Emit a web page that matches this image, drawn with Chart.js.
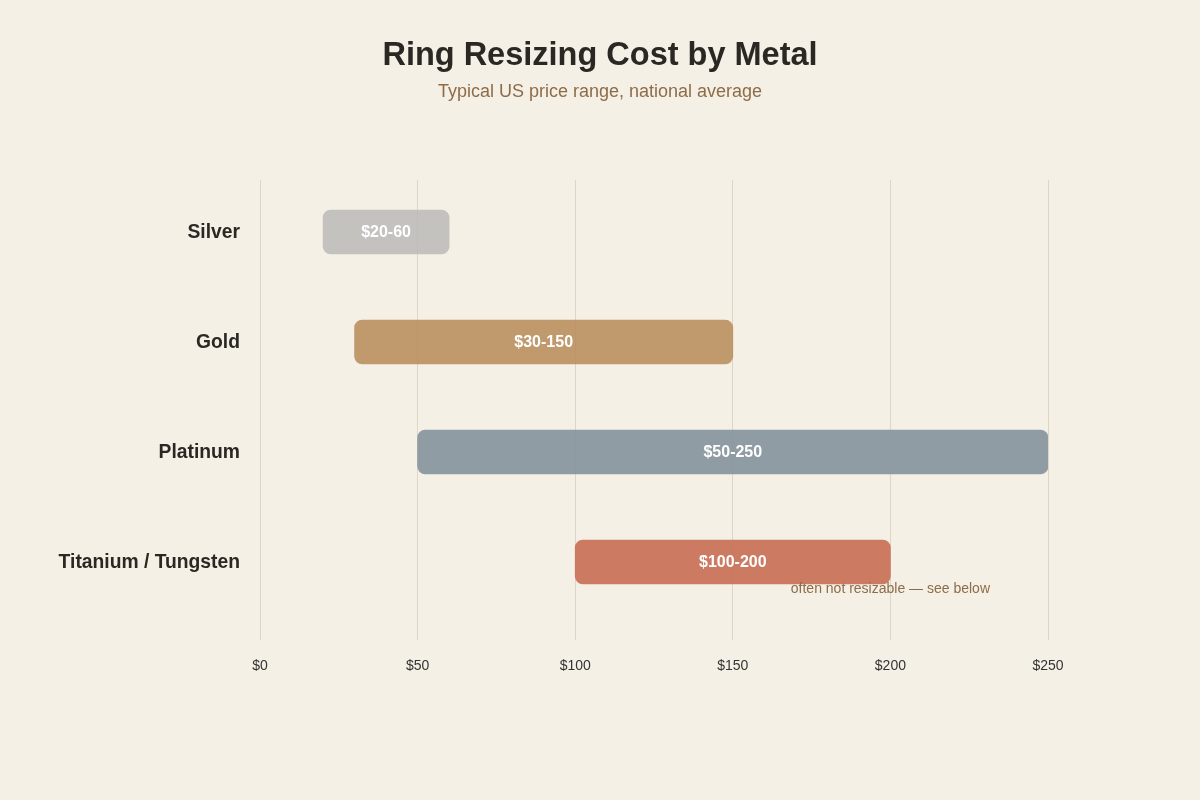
<!DOCTYPE html>
<html>
<head>
<meta charset="utf-8">
<script src="https://cdn.jsdelivr.net/npm/chart.js@4/dist/chart.umd.min.js"></script>
<style>
  html, body { margin: 0; padding: 0; background: #F5F0E6; }
  #wrap { width: 1200px; height: 800px; position: relative; }
</style>
</head>
<body>
<div id="wrap"><canvas id="c" width="1200" height="800"></canvas></div>
<script>
// ranges, in USD
const metals = ["Silver", "Gold", "Platinum", "Titanium / Tungsten"];
const lowCost = [20, 30, 50, 100];
const highCost = [60, 150, 250, 200];
const notes = ["", "", "", "often not resizable \u2014 see below"];
const xTicks = [0, 50, 100, 150, 200, 250];
const barColors = [
  "rgba(188, 187, 186, 0.88)",
  "rgba(184, 140, 92, 0.88)",
  "rgba(133, 146, 156, 0.9)",
  "rgba(200, 110, 83, 0.9)",
];

const FONT = "'Liberation Sans', Arial, Helvetica, sans-serif";
const INK = "#2B2824";
const MUTED = "#8E6C48";

/** title, category labels, bar labels and note */
const decor = {
  id: "decor",
  afterDatasetsDraw(chart) {
    const { ctx } = chart;
    const x = chart.scales.x;
    const y = chart.scales.y;
    const meta = chart.getDatasetMeta(0);
    ctx.save();
    ctx.textAlign = "center";
    ctx.textBaseline = "middle";
    ctx.fillStyle = INK;
    ctx.font = `bold 32.5px ${FONT}`;
    ctx.fillText("Ring Resizing Cost by Metal", 600, 56);
    ctx.fillStyle = MUTED;
    ctx.font = `18px ${FONT}`;
    ctx.fillText("Typical US price range, national average", 600, 92);

    metals.forEach((name, i) => {
      const py = y.getPixelForValue(i) + 1;
      ctx.textAlign = "right";
      ctx.fillStyle = INK;
      ctx.font = `bold 19.3px ${FONT}`;
      ctx.fillText(name, 240, py);

      const bar = meta.data[i];
      ctx.textAlign = "center";
      ctx.fillStyle = "#FFFFFF";
      ctx.font = `bold 16px ${FONT}`;
      ctx.fillText(`$${lowCost[i]}-${highCost[i]}`, (bar.x + bar.base) / 2, py);

      if (notes[i]) {
        ctx.fillStyle = MUTED;
        ctx.font = `14px ${FONT}`;
        ctx.fillText(notes[i], x.getPixelForValue(highCost[i]), py + 26);
      }
    });
    ctx.restore();
  },
};

new Chart(document.getElementById("c"), {
  type: "bar",
  data: {
    datasets: [
      {
        data: metals.map((m, i) => ({ x: [lowCost[i], highCost[i]], y: i })),
        backgroundColor: barColors,
        borderWidth: 0,
        borderRadius: 8,
        borderSkipped: false,
        barThickness: 44,
      },
    ],
  },
  options: {
    indexAxis: "y",
    responsive: false,
    animation: false,
    layout: { padding: { top: 180, left: 260, right: 152, bottom: 100 } },
    plugins: { legend: { display: false }, tooltip: { enabled: false } },
    scales: {
      x: {
        type: "linear",
        min: 0,
        max: 250,
        afterBuildTicks: (axis) => { axis.ticks = xTicks.map((v) => ({ value: v })); },
        afterFit: (axis) => { axis.height = 60; },
        grid: { color: "#DDD5C6", lineWidth: 1, drawTicks: false },
        border: { display: false },
        ticks: {
          padding: 18,
          color: "#333333",
          font: { family: FONT, size: 14 },
          callback: (v) => "$" + v,
        },
      },
      y: {
        type: "linear",
        reverse: true,
        offset: false,
        min: -0.4727,
        max: 3.7091,
        display: false,
      },
    },
  },
  plugins: [decor],
});
</script>
</body>
</html>
